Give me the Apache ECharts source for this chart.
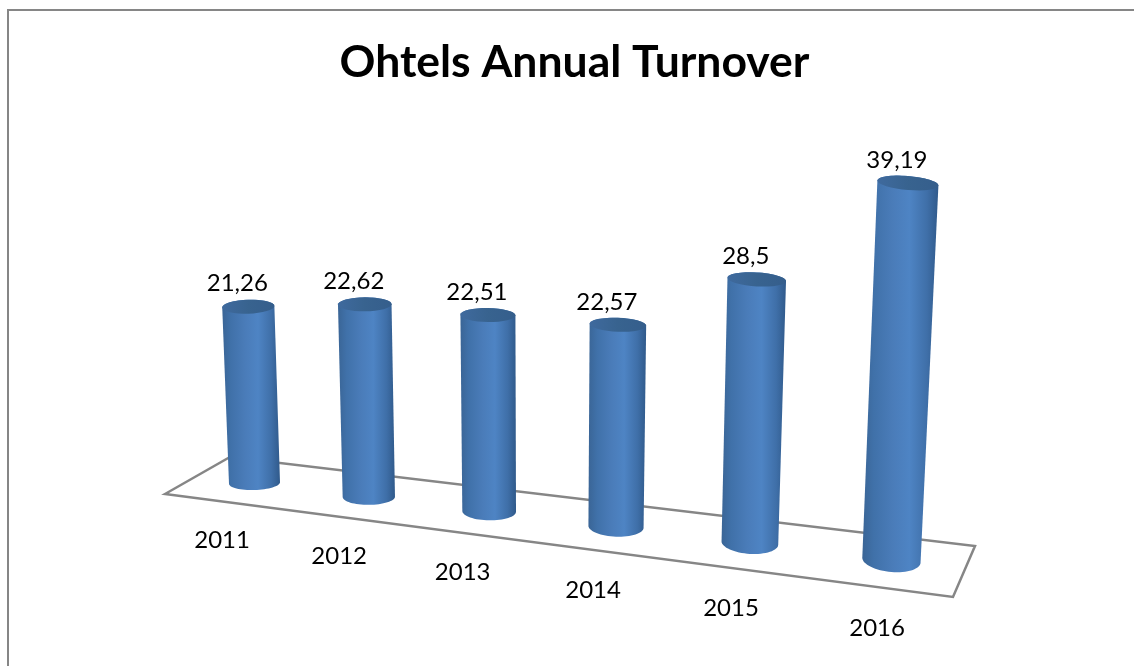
<!DOCTYPE html>
<html>
<head>
<meta charset="utf-8">
<title>Ohtels Annual Turnover</title>
<script src="https://cdn.jsdelivr.net/npm/echarts@6/dist/echarts.min.js"></script>
<style>
  html, body { margin: 0; padding: 0; background: #fff; }
  #chart { width: 1134px; height: 666px; }
</style>
</head>
<body>
<div id="chart"></div>
<script>
// chart data
const years = ['2011', '2012', '2013', '2014', '2015', '2016'];
const turnover = [21.26, 22.62, 22.51, 22.57, 28.5, 39.19];

const FONT = 'Lato, "Open Sans", sans-serif';

// perspective of the 3D plot: flat axis coordinates are divided by a depth term
const PERSP_CAT = 0.025;    // bars get closer to the viewer along the categories
const PERSP_VAL = 0.001;    // and closer with height
const PERSP_LABEL = 0.0304;
const DRIFT_CAT = 1.4;      // floor falls slowly to the right
const LEAN_VAL = -0.54;
const LABEL_DX = -39.2;
const LABEL_DY = 40.6;

function project(api, i, v, onLabelRow) {
  const flat = api.coord([i, v]);
  const d = onLabelRow ? 1 : 0;
  const w = 1 - PERSP_CAT * i - PERSP_VAL * v - PERSP_LABEL * d;
  return [
    (flat[0] + LEAN_VAL * v + LABEL_DX * d) / w,
    (flat[1] + DRIFT_CAT * i + LABEL_DY * d) / w
  ];
}

// points of an ellipse arc, slightly tilted with the floor
function arc(c, rx, ry, tilt, from, to) {
  const pts = [];
  const n = 32;
  for (let k = 0; k <= n; k++) {
    const t = from + (to - from) * k / n;
    pts.push([
      c[0] + rx * Math.cos(t),
      c[1] + ry * Math.sin(t) + tilt * rx * Math.cos(t)
    ]);
  }
  return pts;
}

const bodyFill = new echarts.graphic.LinearGradient(0, 0, 1, 0, [
  { offset: 0, color: '#3a6596' },
  { offset: 0.15, color: '#4071a9' },
  { offset: 0.4, color: '#4a7cb9' },
  { offset: 0.62, color: '#4e84c4' },
  { offset: 0.85, color: '#3f6fa8' },
  { offset: 1, color: '#305a8b' }
]);
const lidFill = new echarts.graphic.LinearGradient(0, 0, 1, 0, [
  { offset: 0, color: '#3f6a9e' },
  { offset: 0.5, color: '#38638f' },
  { offset: 1, color: '#355e8c' }
]);

function renderBar(params, api) {
  const i = api.value(0);
  const v = api.value(1);
  const base = project(api, i, 0);
  const top = project(api, i, v);
  const baseW = 1 - PERSP_CAT * i;
  const topW = baseW - PERSP_VAL * v;
  const baseRx = 25.5 / baseW;
  const topRx = 25.5 / topW;
  const baseRy = 7 + i;
  const topRy = 7;
  const tilt = -0.03 + 0.022 * i;

  const body = arc(top, topRx, topRy, tilt, Math.PI, 2 * Math.PI)
    .concat(arc(base, baseRx, baseRy, tilt, 0, Math.PI));
  const lid = arc(top, topRx, topRy, tilt, 0, 2 * Math.PI);
  const year = project(api, i, 0, true);

  return {
    type: 'group',
    children: [
      { type: 'polygon', shape: { points: body }, style: { fill: bodyFill } },
      { type: 'polygon', shape: { points: lid }, style: { fill: lidFill } },
      {
        type: 'text',
        style: {
          text: String(v).replace('.', ','),
          x: top[0] - 11,
          y: top[1] - 23,
          textAlign: 'center',
          textVerticalAlign: 'middle',
          fontFamily: FONT,
          fontSize: 24,
          fill: '#000'
        }
      },
      {
        type: 'text',
        style: {
          text: years[i],
          x: year[0],
          y: year[1],
          textAlign: 'center',
          textVerticalAlign: 'middle',
          fontFamily: FONT,
          fontSize: 24,
          fill: '#000'
        }
      }
    ]
  };
}

const chart = echarts.init(document.getElementById('chart'));

chart.setOption({
  backgroundColor: '#fff',
  animation: false,
  title: {
    text: 'Ohtels Annual Turnover',
    left: 569.5,
    top: 35,
    textAlign: 'center',
    textStyle: { fontFamily: FONT, fontSize: 44.5, fontWeight: 'bold', color: '#000' }
  },
  grid: { left: 201.95, width: 630.6, top: 96, height: 387 },
  xAxis: { type: 'category', data: years, show: false },
  yAxis: { type: 'value', min: 0, max: 45, show: false },
  graphic: [
    // chart frame, cut by the window on the right and bottom
    {
      type: 'polyline',
      shape: { points: [[8, 666], [8, 10], [1134, 10]] },
      style: { stroke: '#868686', lineWidth: 2, fill: null }
    },
    // floor of the 3D plot
    {
      type: 'polygon',
      shape: { points: [[165, 494], [230, 457], [975, 546], [953, 597]] },
      style: { stroke: '#868686', lineWidth: 2.5, fill: '#fff' }
    }
  ],
  series: [{
    type: 'custom',
    renderItem: renderBar,
    encode: { x: 0, y: 1 },
    data: years.map((y, i) => [i, turnover[i]])
  }]
});
</script>
</body>
</html>
